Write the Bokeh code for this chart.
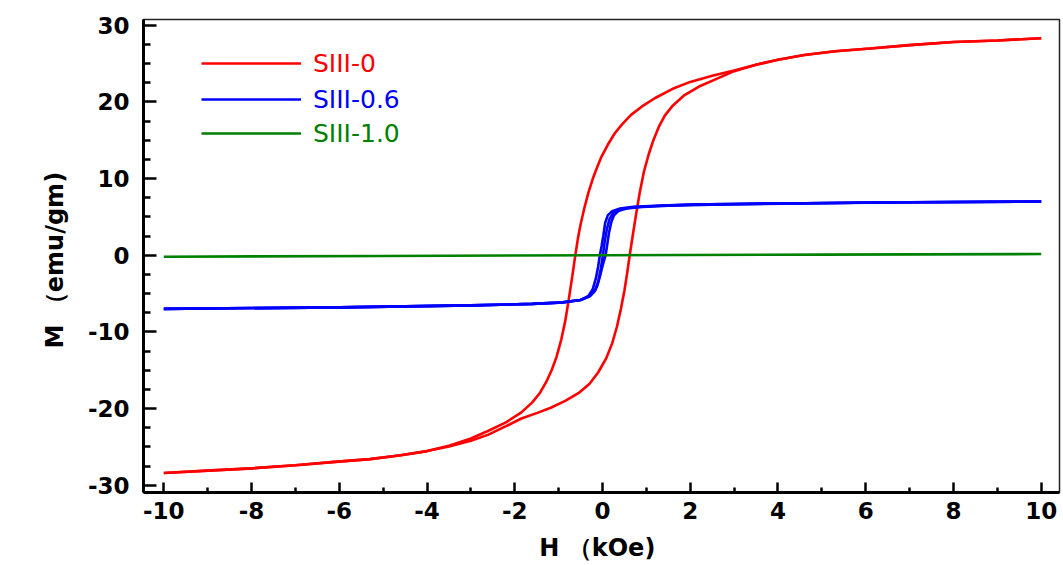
from bokeh.plotting import figure
from bokeh.models import FixedTicker, Legend, LegendItem, Range1d
from bokeh.embed import file_html
from bokeh.resources import INLINE

# ---------------- data ----------------
# SIII-0 : descending branch (H from +10 to -10)
red_desc_H = [10, 9, 8, 7, 6.1, 5.3, 4.6, 4, 3.5, 3, 2.5, 2, 1.6, 1.2, 0.9, 0.65, 0.45, 0.28,
              0.12, -0.02, -0.12, -0.22, -0.32, -0.42, -0.5, -0.56, -0.62, -0.69, -0.77,
              -0.85, -0.94, -1.05, -1.16, -1.28, -1.42, -1.6, -1.85, -2.2, -2.6, -3.0,
              -3.5, -4.0, -4.6, -5.3, -6.1, -7.0, -8.0, -9.0, -10]
red_desc_M = [28.3, 28.0, 27.8, 27.4, 26.95, 26.6, 26.1, 25.5, 24.85, 24.1, 23.4, 22.6, 21.7,
              20.5, 19.4, 18.3, 17.1, 15.9, 14.4, 12.9, 11.5, 10.0, 8.2, 6.0, 4.0, 2.2,
              0.0, -2.8, -5.8, -8.6, -11.0, -13.3, -15.0, -16.5, -17.9, -19.2, -20.5,
              -21.8, -22.9, -23.9, -24.85, -25.55, -26.1, -26.6, -26.95, -27.4, -27.8,
              -28.1, -28.4]
# SIII-0 : ascending branch (H from -10 to +10)
red_asc_H = [-10, -9, -8, -7, -6.1, -5.3, -4.6, -4.0, -3.5, -3.0, -2.6, -2.2, -1.85, -1.5,
             -1.18, -0.85, -0.55, -0.3, -0.1, 0.08, 0.22, 0.33, 0.42, 0.5, 0.56, 0.62, 0.69,
             0.77, 0.85, 0.94, 1.05, 1.16, 1.28, 1.42, 1.6, 1.85, 2.2, 2.6, 3.0, 3.5, 4,
             4.6, 5.3, 6.1, 7, 8, 9, 10]
red_asc_M = [-28.4, -28.1, -27.8, -27.4, -26.95, -26.6, -26.1, -25.55, -24.95, -24.2, -23.4,
             -22.3, -21.3, -20.6, -19.9, -19.0, -18.0, -16.8, -15.3, -13.5, -11.5, -9.3,
             -7.0, -4.6, -2.4, 0.0, 2.6, 5.5, 8.2, 10.8, 13.1, 15.0, 16.7, 18.2, 19.5,
             20.8, 22.0, 23.0, 24.0, 24.85, 25.5, 26.1, 26.6, 26.95, 27.4, 27.8, 28.0, 28.3]

# SIII-0.6 : descending, middle and ascending curves
blue_desc_H = [10, 7, 4, 2, 1.2, 0.7, 0.4, 0.22, 0.12, 0.06, 0.02, -0.02, -0.06, -0.1,
               -0.15, -0.22, -0.32, -0.5, -0.9, -1.6, -3, -6, -10]
blue_desc_M = [7.0, 6.9, 6.75, 6.6, 6.45, 6.3, 6.1, 5.75, 5.2, 4.2, 2.6, 1.2, 0.0, -1.5,
               -3.0, -4.4, -5.3, -5.85, -6.15, -6.35, -6.55, -6.8, -7.0]
blue_mid_H = [-10, -6, -3, -1.6, -1.0, -0.5, -0.28, -0.17, -0.1, -0.04, 0.01, 0.05, 0.1,
              0.16, 0.24, 0.4, 0.7, 1.2, 2, 4, 7, 10]
blue_mid_M = [-7.0, -6.8, -6.55, -6.35, -6.2, -5.85, -5.3, -4.6, -3.5, -1.8, 0.0, 1.8, 3.4,
              4.7, 5.5, 6.0, 6.25, 6.42, 6.6, 6.75, 6.9, 7.0]
blue_asc_H = [-10, -6, -3, -1.6, -0.9, -0.5, -0.3, -0.18, -0.12, -0.06, 0.0, 0.07, 0.11,
              0.15, 0.2, 0.26, 0.36, 0.55, 0.9, 1.5, 3, 6, 10]
blue_asc_M = [-7.0, -6.8, -6.55, -6.35, -6.15, -5.85, -5.4, -4.7, -4.0, -2.8, -1.4, 0.0,
              1.5, 3.0, 4.3, 5.2, 5.75, 6.1, 6.3, 6.45, 6.65, 6.85, 7.0]

# SIII-1.0
green_H = [-10, -5, 0, 5, 10]
green_M = [-0.2, -0.1, 0.0, 0.08, 0.15]

series_names = ["SIII-0", "SIII-0.6", "SIII-1.0"]
series_colors = ["#ff0000", "#0000ff", "#008000"]

x_tick_values = [-10, -8, -6, -4, -2, 0, 2, 4, 6, 8, 10]
x_tick_labels = ["-10", "-8", "-6", "-4", "-2", "0", "2", "4", "6", "8", "10"]
x_minor_values = [-9, -7, -5, -3, -1, 1, 3, 5, 7, 9]
y_tick_values = [-30, -20, -10, 0, 10, 20, 30]
y_tick_labels = ["-30", "-20", "-10", "0", "10", "20", "30"]
y_minor_values = [-27.5, -25, -22.5, -17.5, -15, -12.5, -7.5, -5, -2.5,
                  2.5, 5, 7.5, 12.5, 15, 17.5, 22.5, 25, 27.5]

# ---------------- figure ----------------
p = figure(frame_width=916, frame_height=473,
           min_border_left=143, min_border_right=2, min_border_top=19, min_border_bottom=71,
           x_range=Range1d(-10.463, 10.417), y_range=Range1d(-30.95, 30.74),
           output_backend="svg", toolbar_location=None)
p.grid.visible = False
p.outline_line_color = "#222222"
p.outline_line_width = 1.5
p.background_fill_color = "white"
p.border_fill_color = "white"

font = "DejaVu Sans"
for ax in (p.xaxis[0], p.yaxis[0]):
    ax.axis_line_width = 3
    ax.axis_line_color = "black"
    ax.major_tick_line_width = 2.5
    ax.minor_tick_line_width = 2.5
    ax.major_tick_out = 0
    ax.minor_tick_out = 0
    ax.major_label_text_font = font
    ax.major_label_text_font_style = "bold"
    ax.major_label_text_font_size = "23px"
    ax.major_label_text_color = "black"
    ax.axis_label_text_font = font
    ax.axis_label_text_font_style = "bold"
    ax.axis_label_text_font_size = "24px"
    ax.axis_label_text_color = "black"

p.xaxis[0].ticker = FixedTicker(ticks=x_tick_values, minor_ticks=x_minor_values)
p.xaxis[0].major_label_overrides = {v: s for v, s in zip(x_tick_values, x_tick_labels)}
p.xaxis[0].major_tick_in = 10
p.xaxis[0].minor_tick_in = 5
p.xaxis[0].major_label_standoff = 9
p.xaxis[0].axis_label = "H  （kOe)"
p.xaxis[0].axis_label_standoff = 12

p.yaxis[0].ticker = FixedTicker(ticks=y_tick_values, minor_ticks=y_minor_values)
p.yaxis[0].major_label_overrides = {v: s for v, s in zip(y_tick_values, y_tick_labels)}
p.yaxis[0].major_tick_in = 13
p.yaxis[0].minor_tick_in = 7
p.yaxis[0].major_label_standoff = 14
p.yaxis[0].axis_label = "M （emu/gm)\u00a0"
p.yaxis[0].axis_label_standoff = 16

lw = 2.6
r_red = p.line(red_desc_H, red_desc_M, line_color=series_colors[0], line_width=lw)
p.line(red_asc_H, red_asc_M, line_color=series_colors[0], line_width=lw)
r_blue = p.line(blue_desc_H, blue_desc_M, line_color=series_colors[1], line_width=lw)
p.line(blue_mid_H, blue_mid_M, line_color=series_colors[1], line_width=lw)
p.line(blue_asc_H, blue_asc_M, line_color=series_colors[1], line_width=lw)
r_green = p.line(green_H, green_M, line_color=series_colors[2], line_width=lw)

renderers = [r_red, r_blue, r_green]
legend_offsets_y = [414, 378, 344]
for name, color, rend, vy in zip(series_names, series_colors, renderers, legend_offsets_y):
    leg = Legend(items=[LegendItem(label=name, renderers=[rend])],
                 location=(58, vy), padding=0, margin=0, spacing=0,
                 glyph_width=100, glyph_height=30, label_height=30,
                 label_standoff=12, label_text_font=font,
                 label_text_font_size="25px", label_text_color=color,
                 border_line_color=None, background_fill_alpha=0)
    p.add_layout(leg)

open("out.html", "w").write(file_html(p, INLINE))
